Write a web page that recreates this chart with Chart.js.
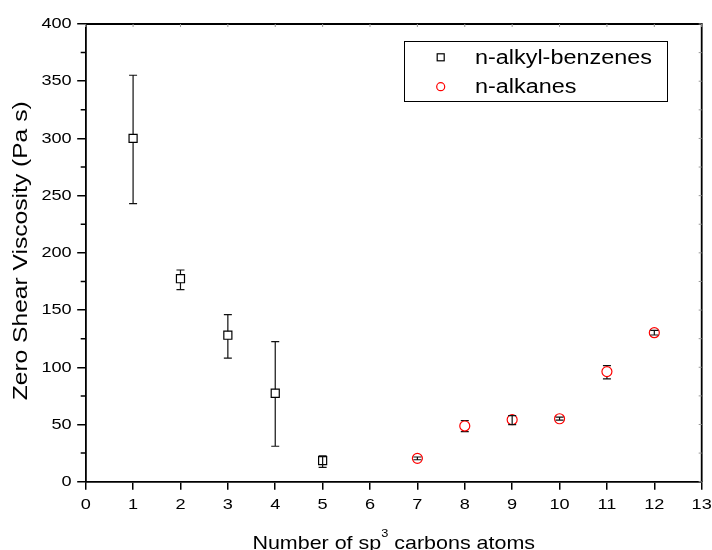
<!DOCTYPE html>
<html><head><meta charset="utf-8">
<script src="https://cdn.jsdelivr.net/npm/chart.js@4/dist/chart.umd.min.js"></script>
<style>html,body{margin:0;padding:0;background:#fff}#wrap{width:712px;height:550px}</style>
</head><body><div id="wrap"><canvas id="c" width="712" height="550"></canvas></div>
<script>
const xTicks = [0,1,2,3,4,5,6,7,8,9,10,11,12,13];
const yTicks = [0,50,100,150,200,250,300,350,400];
const yMinorTicks = [25,75,125,175,225,275,325,375];
const seriesLabels = ['n-alkyl-benzenes','n-alkanes'];
const benzX = [1,2,3,4,5];
const benzY = [300,177.4,128,77.3,18.4];
const benzLow = [243,167.8,108,31,12.6];
const benzHigh = [355.2,185,146,122.4,22.5];
const alkX = [7,8,9,10,11,12];
const alkY = [20.4,48.7,54.2,55,96.2,130.2];
const alkLow = [19.2,43.7,49.8,53.8,89.8,128.2];
const alkHigh = [21.6,53.3,57.7,56.4,101.4,132.2];
const xTitleParts = ['Number of sp','3',' carbons atoms'];
const yTitle = 'Zero Shear Viscosity (Pa s)';

const FONT = '"Liberation Sans", Arial, sans-serif';
function sText(ctx, t, x, y, align, base, sx){
  ctx.save(); ctx.translate(x,y); ctx.scale(sx,1);
  ctx.textAlign = align; ctx.textBaseline = base; ctx.fillText(t,0,0); ctx.restore();
}
const errSets = [[benzLow,benzHigh],[alkLow,alkHigh]];
function drawErr(chart, wantSmall){
  const ctx = chart.ctx, ys = chart.scales.y;
  chart.data.datasets.forEach((ds,di)=>{
    const meta = chart.getDatasetMeta(di);
    const [lo,hi] = errSets[di];
    meta.data.forEach((pt,i)=>{
      const yl = ys.getPixelForValue(lo[i]), yh = ys.getPixelForValue(hi[i]);
      const small = (yl-yh) < 2*ds.pointRadius;
      if (small !== wantSmall) return;
      ctx.save(); ctx.strokeStyle='#111'; ctx.lineWidth=1.2;
      ctx.beginPath();
      ctx.moveTo(pt.x, yl); ctx.lineTo(pt.x, yh);
      ctx.moveTo(pt.x-4, yl); ctx.lineTo(pt.x+4, yl);
      ctx.moveTo(pt.x-4, yh); ctx.lineTo(pt.x+4, yh);
      ctx.stroke(); ctx.restore();
    });
  });
}
const deco = {
  id:'deco',
  beforeDatasetsDraw(chart){ drawErr(chart,false); },
  afterDatasetsDraw(chart){ drawErr(chart,true); },
  afterDraw(chart){
    const ctx = chart.ctx, a = chart.chartArea, xs = chart.scales.x, ys = chart.scales.y;
    ctx.save();
    ctx.strokeStyle='#000'; ctx.lineWidth=1.8;
    ctx.beginPath(); ctx.moveTo(a.left,a.top); ctx.lineTo(a.right,a.top); ctx.lineTo(a.right,a.bottom); ctx.stroke();
    ctx.lineWidth=1.5;
    ctx.beginPath();
    yMinorTicks.forEach(v=>{const y=ys.getPixelForValue(v); ctx.moveTo(a.left-5,y); ctx.lineTo(a.left,y);});
    ctx.stroke();
    ctx.strokeStyle='#999'; ctx.lineWidth=1;
    ctx.beginPath();
    xTicks.forEach(v=>{const x=xs.getPixelForValue(v); ctx.moveTo(x,a.top); ctx.lineTo(x,a.top+3);});
    yTicks.concat(yMinorTicks).forEach(v=>{const y=ys.getPixelForValue(v); ctx.moveTo(a.right,y); ctx.lineTo(a.right-3,y);});
    ctx.stroke();
    ctx.fillStyle='#000';
    ctx.font = '15.5px '+FONT;
    yTicks.forEach(v=> sText(ctx,String(v),71.7,ys.getPixelForValue(v),'right','middle',1.17));
    xTicks.forEach(v=> sText(ctx,String(v),xs.getPixelForValue(v),508.5,'center','alphabetic',1.17));
    const sx = 1.16, big='18.5px '+FONT, sm='11px '+FONT;
    ctx.font=big; const w0=ctx.measureText(xTitleParts[0]).width, w2=ctx.measureText(xTitleParts[2]).width;
    ctx.font=sm; const w1=ctx.measureText(xTitleParts[1]).width;
    const tot=(w0+w1+w2)*sx; let x0=(a.left+a.right)/2 - tot/2;
    ctx.font=big; sText(ctx,xTitleParts[0],x0,548.5,'left','alphabetic',sx); x0+=w0*sx;
    ctx.font=sm; sText(ctx,xTitleParts[1],x0,537,'left','alphabetic',sx); x0+=w1*sx;
    ctx.font=big; sText(ctx,xTitleParts[2],x0,548.5,'left','alphabetic',sx);
    ctx.save(); ctx.translate(21,(a.top+a.bottom)/2 - 2); ctx.rotate(-Math.PI/2);
    ctx.font='20px '+FONT; sText(ctx,yTitle,0,0,'center','middle',1.23); ctx.restore();
    ctx.strokeStyle='#000'; ctx.lineWidth=1;
    ctx.strokeRect(404.5,41.5,263,60);
    const rows=[57.3,86.7];
    const ds=chart.data.datasets;
    ctx.lineWidth=1.2;
    ctx.strokeStyle=ds[0].borderColor; ctx.fillStyle='#fff';
    ctx.fillRect(437.2,53.8,7,7); ctx.strokeRect(437.2,53.8,7,7);
    ctx.strokeStyle=ds[1].borderColor;
    ctx.beginPath(); ctx.arc(440.7,rows[1],4,0,Math.PI*2); ctx.stroke();
    ctx.fillStyle='#000'; ctx.font='19.5px '+FONT;
    ds.forEach((d,i)=> sText(ctx,d.label,475,rows[i]+1,'left','middle',1.2));
    ctx.restore();
  }
};
new Chart(document.getElementById('c'),{
  type:'scatter',
  data:{datasets:[
    {label:seriesLabels[0], data:benzX.map((x,i)=>({x,y:benzY[i]})), pointStyle:'rect', pointRadius:5.7,
     borderColor:'#000', backgroundColor:'#fff', borderWidth:1.2},
    {label:seriesLabels[1], data:alkX.map((x,i)=>({x,y:alkY[i]})), pointStyle:'circle', pointRadius:5,
     borderColor:'#ff0000', backgroundColor:'#fff', borderWidth:1.2}
  ]},
  options:{
    responsive:false, animation:false, devicePixelRatio:1,
    layout:{padding:{left:0,top:24,right:10.3,bottom:0}},
    plugins:{legend:{display:false}, tooltip:{enabled:false}},
    scales:{
      x:{type:'linear', min:0, max:13, position:'bottom',
        afterBuildTicks:s=>{s.ticks=xTicks.map(v=>({value:v}));},
        ticks:{display:false},
        grid:{drawOnChartArea:false, drawTicks:true, tickLength:8, color:'#000', lineWidth:1.5},
        border:{display:true, color:'#000', width:1.8},
        afterFit:s=>{s.height=68.3;}},
      y:{type:'linear', min:0, max:400, position:'left',
        afterBuildTicks:s=>{s.ticks=yTicks.map(v=>({value:v}));},
        ticks:{display:false},
        grid:{drawOnChartArea:false, drawTicks:true, tickLength:8.5, color:'#000', lineWidth:1.5},
        border:{display:true, color:'#000', width:1.8},
        afterFit:s=>{s.width=85.7;}}
    }
  },
  plugins:[deco]
});
</script></body></html>
